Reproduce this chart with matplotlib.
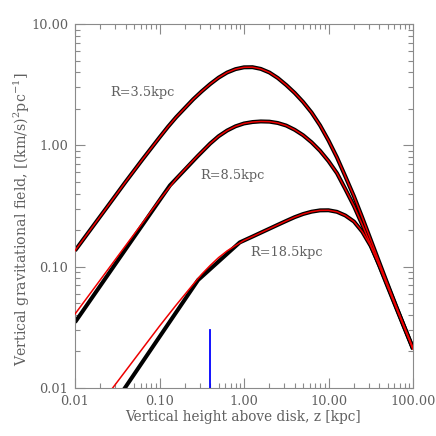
import matplotlib
matplotlib.use('Agg')
import matplotlib.pyplot as plt
from matplotlib.ticker import FixedLocator, FixedFormatter, LogLocator, NullFormatter

# ---------------- data ----------------
# R = 3.5 kpc (model and fit nearly coincide)
z_r35 = [0.01, 0.0158, 0.0251, 0.0398, 0.0631, 0.1, 0.126, 0.158, 0.2, 0.251, 0.316, 0.398,
         0.501, 0.631, 0.794, 1.0, 1.26, 1.58, 2.0, 2.51, 3.16, 3.98, 5.01, 6.31, 7.94, 10.0,
         12.6, 15.8, 20.0, 25.1, 31.6, 39.8, 50.1, 63.1, 79.4, 100.0]
kz_r35_model = [0.1355, 0.2089, 0.3236, 0.5012, 0.7674, 1.161, 1.422, 1.710, 2.032, 2.399, 2.786,
                3.199, 3.614, 3.981, 4.246, 4.395, 4.406, 4.266, 3.981, 3.589, 3.141, 2.704, 2.275,
                1.862, 1.462, 1.096, 0.7943, 0.5559, 0.3802, 0.2541, 0.1667, 0.1091, 0.0716,
                0.0473, 0.0316, 0.0211]
kz_r35_fit = [0.1355, 0.2089, 0.3236, 0.5012, 0.7674, 1.161, 1.422, 1.710, 2.032, 2.399, 2.786,
              3.199, 3.614, 3.981, 4.246, 4.395, 4.406, 4.266, 3.981, 3.589, 3.141, 2.704, 2.275,
              1.862, 1.462, 1.096, 0.7943, 0.5559, 0.3802, 0.2541, 0.1667, 0.1091, 0.0716,
              0.0473, 0.0316, 0.0211]

# R = 8.5 kpc
z_r85_model = [0.01, 0.0316, 0.1, 0.133, 0.2, 0.282, 0.398, 0.501, 0.631, 0.794, 1.0, 1.26, 1.58,
               2.0, 2.51, 3.16, 3.98, 5.01, 6.31, 7.94, 10.0, 12.6, 15.8, 20.0, 25.1, 31.6, 39.8,
               50.1, 63.1, 79.4, 100.0]
kz_r85_model = [0.0348, 0.1107, 0.3516, 0.4677, 0.631, 0.8128, 1.035, 1.189, 1.324, 1.435, 1.514,
                1.556, 1.574, 1.567, 1.528, 1.455, 1.343, 1.211, 1.059, 0.9016, 0.7413, 0.5888,
                0.4365, 0.3162, 0.2213, 0.1514, 0.1023, 0.0684, 0.0460, 0.0310, 0.0209]
z_r85_fit = [0.01, 0.0316, 0.0631, 0.1, 0.126, 0.158, 0.2, 0.282, 0.398, 0.501, 0.631, 0.794, 1.0,
             1.26, 1.58, 2.0, 2.51, 3.16, 3.98, 5.01, 6.31, 7.94, 10.0, 12.6, 15.8, 20.0, 25.1,
             31.6, 39.8, 50.1, 63.1, 79.4, 100.0]
kz_r85_fit = [0.0407, 0.1202, 0.2301, 0.3548, 0.4365, 0.5309, 0.6353, 0.8166, 1.035, 1.189, 1.324,
              1.435, 1.514, 1.556, 1.574, 1.567, 1.528, 1.455, 1.343, 1.211, 1.059, 0.9016, 0.7413,
              0.5888, 0.4365, 0.3162, 0.2213, 0.1514, 0.1023, 0.0684, 0.0460, 0.0310, 0.0209]

# R = 18.5 kpc
z_r185_model = [0.0251, 0.1, 0.286, 0.891, 1.26, 1.58, 2.0, 2.51, 3.16, 3.98, 5.01, 6.31, 7.94,
                10.0, 12.6, 15.8, 20.0, 25.1, 31.6, 39.8, 50.1, 63.1, 79.4, 100.0]
kz_r185_model = [0.00637, 0.0264, 0.0776, 0.1585, 0.1770, 0.1905, 0.2056, 0.2213, 0.2382, 0.2559,
                 0.2716, 0.2838, 0.2911, 0.2917, 0.2831, 0.2642, 0.2355, 0.1941, 0.1479, 0.1035,
                 0.0700, 0.0468, 0.0316, 0.0214]
z_r185_fit = [0.02, 0.0279, 0.0501, 0.1, 0.158, 0.251, 0.316, 0.398, 0.501, 0.631, 0.794, 1.0,
              1.26, 1.58, 2.0, 2.51, 3.16, 3.98, 5.01, 6.31, 7.94, 10.0, 12.6, 15.8, 20.0, 25.1,
              31.6, 39.8, 50.1, 63.1, 79.4, 100.0]
kz_r185_fit = [0.00733, 0.0100, 0.01714, 0.03236, 0.04842, 0.0716, 0.0867, 0.1023, 0.1189, 0.1349,
               0.1493, 0.1644, 0.1770, 0.1905, 0.2056, 0.2213, 0.2382, 0.2559, 0.2716, 0.2838,
               0.2911, 0.2917, 0.2831, 0.2642, 0.2355, 0.1941, 0.1479, 0.1035, 0.0700, 0.0468,
               0.0316, 0.0214]

# blue marker line
marker_z = [0.4, 0.4]
marker_kz = [0.01, 0.03]

labels = ["R=3.5kpc", "R=8.5kpc", "R=18.5kpc"]
label_pos = [(0.026, 2.7), (0.30, 0.56), (1.2, 0.13)]

x_ticks = [0.01, 0.1, 1.0, 10.0, 100.0]
x_ticklabels = ["0.01", "0.10", "1.00", "10.00", "100.00"]
y_ticks = [0.01, 0.1, 1.0, 10.0]
y_ticklabels = ["0.01", "0.10", "1.00", "10.00"]

# ---------------- plot ----------------
plt.rcParams['font.family'] = ['DejaVu Serif']
plt.rcParams['mathtext.fontset'] = 'dejavuserif'

TXT = '#606060'
AX = '#8a8a8a'

fig = plt.figure(figsize=(4.36, 4.36), dpi=100)
ax = fig.add_axes([75 / 436, 48 / 436, 338 / 436, 364 / 436])
ax.set_xscale('log')
ax.set_yscale('log')

for z, m in [(z_r35, kz_r35_model), (z_r85_model, kz_r85_model), (z_r185_model, kz_r185_model)]:
    ax.plot(z, m, color='black', lw=2.9, solid_joinstyle='round', solid_capstyle='butt', zorder=2)
for z, f in [(z_r35, kz_r35_fit), (z_r85_fit, kz_r85_fit), (z_r185_fit, kz_r185_fit)]:
    ax.plot(z, f, color='#ee0000', lw=1.1, solid_joinstyle='round', zorder=3)

ax.plot(marker_z, marker_kz, color='#0000ff', lw=1.3, zorder=3)

for t, (x, y) in zip(labels, label_pos):
    ax.text(x, y, t, fontsize=9.3, color=TXT, ha='left', va='center')

ax.set_xlim(0.01, 100)
ax.set_ylim(0.01, 10)

ax.xaxis.set_major_locator(FixedLocator(x_ticks))
ax.xaxis.set_major_formatter(FixedFormatter(x_ticklabels))
ax.yaxis.set_major_locator(FixedLocator(y_ticks))
ax.yaxis.set_major_formatter(FixedFormatter(y_ticklabels))
ax.xaxis.set_minor_locator(LogLocator(base=10, subs=range(2, 10), numticks=20))
ax.yaxis.set_minor_locator(LogLocator(base=10, subs=range(2, 10), numticks=20))
ax.xaxis.set_minor_formatter(NullFormatter())
ax.yaxis.set_minor_formatter(NullFormatter())

ax.tick_params(which='both', direction='in', top=True, right=True, color=AX,
               labelcolor=TXT, labelsize=9.3, width=0.8)
ax.tick_params(which='major', length=7, pad=5)
ax.tick_params(which='minor', length=3.5)
for s in ax.spines.values():
    s.set_color(AX)
    s.set_linewidth(0.8)

ax.set_xlabel('Vertical height above disk, z [kpc]', fontsize=9.8, color=TXT)
ax.xaxis.set_label_coords(0.497, -0.080)
ax.xaxis.label.set_verticalalignment('center')
ax.set_ylabel(r'Vertical gravitational field, [(km/s)$^2$pc$^{-1}$]', fontsize=10.2, color=TXT)
ax.yaxis.set_label_coords(-0.157, 0.464)
ax.yaxis.label.set_verticalalignment('center')

fig.savefig('out.png', dpi=100)
